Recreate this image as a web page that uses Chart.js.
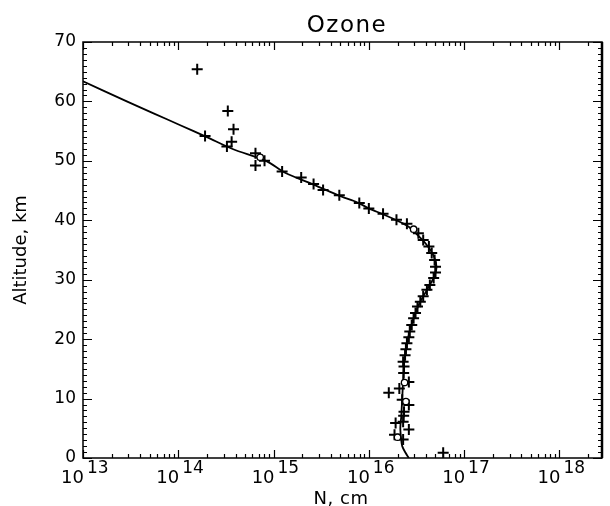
<!DOCTYPE html>
<html>
<head>
<meta charset="utf-8">
<title>Ozone</title>
<script src="https://cdn.jsdelivr.net/npm/chart.js@4.4.1/dist/chart.umd.min.js"></script>
<style>
  html, body { margin: 0; padding: 0; background: #fff; }
  canvas { display: block; }
</style>
</head>
<body>
<canvas id="ozoneChart" width="610" height="506"></canvas>
<script>
// MEDICIONES (+): altitud km / densidad columna
const altMedida = [65.4, 58.4, 55.3, 54.2, 53.2, 52.4, 51.3, 50.0, 49.2, 48.2, 47.2, 46.1, 45.1, 44.2,
    42.9, 42.0, 41.1, 40.1, 39.4, 37.8, 36.7, 35.6, 34.5, 33.3, 32.2, 31.2, 30.3, 29.1, 28.3, 27.2,
    26.3, 25.5, 24.4, 23.5, 22.4, 21.3, 20.3, 19.3, 18.3, 17.3, 16.2, 15.4, 14.3, 12.8, 11.7, 11.0,
    9.8, 8.9, 7.8, 7.1, 6.1, 5.9, 4.8, 3.9, 3.1, 0.9];
const nMedida = [1.58e14, 3.31e14, 3.80e14, 1.91e14, 3.63e14, 3.24e14, 6.46e14, 8.04e14, 6.46e14, 1.23e15, 1.95e15, 2.63e15, 3.31e15, 4.90e15,
    7.94e15, 1.00e16, 1.41e16, 1.95e16, 2.51e16, 3.31e16, 3.72e16, 4.27e16, 4.57e16, 4.90e16, 5.01e16, 5.01e16, 4.79e16, 4.37e16, 4.07e16, 3.72e16,
    3.47e16, 3.24e16, 3.09e16, 2.95e16, 2.82e16, 2.69e16, 2.63e16, 2.51e16, 2.45e16, 2.40e16, 2.29e16, 2.34e16, 2.32e16, 2.63e16, 2.09e16, 1.62e16,
    2.24e16, 2.63e16, 2.34e16, 2.32e16, 2.29e16, 1.91e16, 2.63e16, 1.86e16, 2.29e16, 6.03e16];

// CIRCULOS
const altCirculo = [50.6, 38.5, 12.7, 9.5, 3.5];
const nCirculo = [7.24e14, 2.95e16, 2.37e16, 2.45e16, 2.00e16];

// PERFIL (linea)
const altPerfil = [0, 1, 2, 3, 5, 7, 10, 13, 16, 18, 20, 22, 24, 26, 28, 30, 32, 34, 36, 38, 39, 40,
    41, 42, 43, 44, 46, 48, 50, 52, 54, 56, 58, 60, 63.4];
const nPerfil = [2.63e16, 2.40e16, 2.24e16, 2.19e16, 2.14e16, 2.19e16, 2.24e16, 2.29e16, 2.34e16, 2.45e16, 2.57e16, 2.75e16, 3.02e16, 3.39e16, 3.98e16, 4.68e16, 5.13e16, 4.79e16, 3.98e16, 3.02e16, 2.57e16, 1.95e16,
    1.41e16, 1.00e16, 7.59e15, 5.13e15, 2.63e15, 1.32e15, 8.32e14, 3.72e14, 2.00e14, 1.05e14, 5.50e13, 2.88e13, 1.00e13];

// EJES
const exponentesX = [13, 14, 15, 16, 17, 18];
const ticksY = [0, 10, 20, 30, 40, 50, 60, 70];

const FUENTE = '"DejaVu Sans", "Liberation Sans", sans-serif';
const toXY = (xs, ys) => xs.map((v, i) => ({ x: v, y: ys[i] }));

// marco, ticks hacia dentro, etiquetas 10^n y titulos
const marcoPlugin = {
    id: 'marco',
    afterDraw(chart) {
        const { ctx, chartArea: a, scales: { x, y } } = chart;
        ctx.save();
        ctx.strokeStyle = '#000';
        ctx.fillStyle = '#000';

        ctx.lineWidth = 1.5;
        ctx.strokeRect(a.left, a.top, a.right - a.left, a.bottom - a.top);
        ctx.lineWidth = 2.5;
        ctx.beginPath();
        ctx.moveTo(a.right, a.top);
        ctx.lineTo(a.right, a.bottom);
        ctx.stroke();

        ctx.lineWidth = 1.2;
        ctx.beginPath();
        exponentesX.forEach(e => {
            for (let m = 1; m <= 9; m++) {
                const v = m * Math.pow(10, e);
                if (v > x.max) break;
                const px = Math.round(x.getPixelForValue(v)) + 0.5;
                const len = m === 1 ? 8 : 4;
                ctx.moveTo(px, a.bottom); ctx.lineTo(px, a.bottom - len);
                ctx.moveTo(px, a.top); ctx.lineTo(px, a.top + len);
            }
        });
        for (let v = y.min; v <= y.max; v++) {
            const py = Math.round(y.getPixelForValue(v)) + 0.5;
            const len = v % 10 === 0 ? 9 : 4;
            ctx.moveTo(a.left, py); ctx.lineTo(a.left + len, py);
            ctx.moveTo(a.right, py); ctx.lineTo(a.right - len, py);
        }
        ctx.stroke();

        ctx.textBaseline = 'alphabetic';
        exponentesX.forEach(e => {
            const px = x.getPixelForValue(Math.pow(10, e));
            ctx.font = '18px ' + FUENTE;
            ctx.textAlign = 'right';
            ctx.fillText('10', px + 1, 483);
            ctx.font = '17px ' + FUENTE;
            ctx.textAlign = 'left';
            ctx.fillText(String(e), px + 4, 473);
        });

        ctx.textAlign = 'center';
        ctx.letterSpacing = '1.5px';
        ctx.font = '23px ' + FUENTE;
        ctx.fillText('Ozone', 347, 32);
        ctx.letterSpacing = '0.5px';
        ctx.font = '18px ' + FUENTE;
        ctx.fillText('N, cm', 341, 504);
        ctx.restore();
    }
};

const ctxOzono = document.getElementById('ozoneChart');
new Chart(ctxOzono, {
    type: 'scatter',
    data: {
        datasets: [
            {
                label: 'Perfil',
                data: toXY(nPerfil, altPerfil),
                showLine: true,
                borderColor: '#000',
                borderWidth: 1.8,
                pointRadius: 0,
                tension: 0.3,
                order: 3
            },
            {
                label: 'Medidas',
                data: toXY(nMedida, altMedida),
                pointStyle: 'cross',
                pointRadius: 5.5,
                borderColor: '#000',
                borderWidth: 2,
                order: 2
            },
            {
                label: 'Circulos',
                data: toXY(nCirculo, altCirculo),
                pointStyle: 'circle',
                pointRadius: 3.2,
                backgroundColor: '#fff',
                borderColor: '#000',
                borderWidth: 1.3,
                order: 1
            }
        ]
    },
    options: {
        responsive: false,
        animation: false,
        layout: { padding: { left: 0, right: 8, top: 42, bottom: 0 } },
        plugins: { legend: { display: false }, tooltip: { enabled: false }, title: { display: false } },
        scales: {
            x: {
                type: 'logarithmic',
                min: 1e13,
                max: 2.8e18,
                grid: { display: false },
                border: { display: false },
                ticks: { display: false },
                afterFit: s => { s.height = 48; }
            },
            y: {
                min: 0,
                max: 70,
                grid: { display: false, drawTicks: false },
                border: { display: false },
                afterBuildTicks: s => { s.ticks = ticksY.map(v => ({ value: v })); },
                ticks: { color: '#000', padding: 7, font: { family: FUENTE, size: 17 } },
                title: { display: true, text: 'Altitude, km', color: '#000', font: { family: FUENTE, size: 18 }, padding: { top: 11, bottom: 0 } },
                afterFit: s => { s.width = 83; }
            }
        }
    },
    plugins: [marcoPlugin]
});
</script>
</body>
</html>
